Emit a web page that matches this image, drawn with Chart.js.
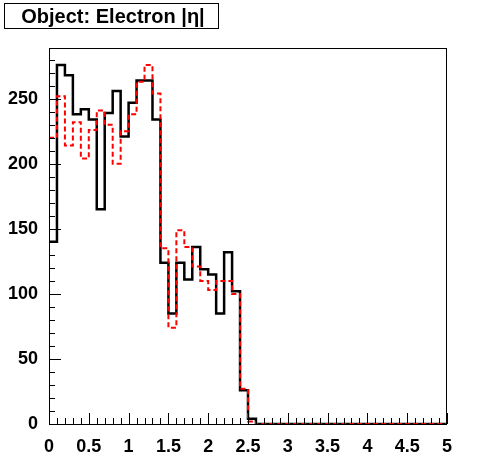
<!DOCTYPE html>
<html>
<head>
<meta charset="utf-8">
<script src="https://cdn.jsdelivr.net/npm/chart.js@4/dist/chart.umd.min.js"></script>
<style>
  html, body { margin: 0; padding: 0; background: #fff; }
  #wrap { width: 496px; height: 472px; }
</style>
</head>
<body>
<div id="wrap"><canvas id="chart" width="496" height="472"></canvas></div>
<script>
const titleText = "Object: Electron |\u03b7|";

// histogram: 50 bins of width 0.1 from 0 to 5
const binWidth = 0.1;
const blackCounts = [
  140, 276, 268, 238, 242, 234, 165, 239, 256, 221,
  247, 264, 264, 234, 124, 85, 124, 111, 136, 119,
  115, 85, 132, 102, 26, 4, 0, 0, 0, 0,
  0, 0, 0, 0, 0, 0, 0, 0, 0, 0,
  0, 0, 0, 0, 0, 0, 0, 0, 0, 0
];
const redCounts = [
  220, 252, 214, 232, 204, 226, 241, 230, 200, 225,
  238, 263, 276, 254, 135, 74, 149, 136, 121, 110,
  103, 110, 110, 100, 27, 2, 0, 0, 0, 0,
  0, 0, 0, 0, 0, 0, 0, 0, 0, 0,
  0, 0, 0, 0, 0, 0, 0, 0, 0, 0
];
const xTicks = [0, 0.5, 1, 1.5, 2, 2.5, 3, 3.5, 4, 4.5, 5];
const yTicks = [0, 50, 100, 150, 200, 250];
const xMax = 5;
const yMax = 289;

// turn bin contents into step points: value of bin i starts at its right edge
function toSteps(counts) {
  const pts = [{ x: 0, y: counts[0] }];
  counts.forEach((v, i) => pts.push({ x: +((i + 1) * binWidth).toFixed(2), y: v }));
  return pts;
}

const tickFont = { family: "'Liberation Sans', Arial, sans-serif", size: 18, weight: "bold" };

// ROOT style frame, inward ticks and the title box
const rootFrame = {
  id: "rootFrame",
  afterDraw(chart) {
    const { ctx, chartArea: a, scales } = chart;
    const xs = scales.x, ys = scales.y;
    ctx.save();
    ctx.strokeStyle = "#000";
    ctx.lineWidth = 1;
    ctx.strokeRect(a.left + 0.5, a.top + 0.5, a.right - a.left - 1, a.bottom - a.top);

    ctx.beginPath();
    for (let i = 0; i <= 50; i++) {
      const px = Math.round(xs.getPixelForValue(i * binWidth)) + 0.5;
      const len = i % 5 === 0 ? 11 : 6;
      ctx.moveTo(px, a.bottom);
      ctx.lineTo(px, a.bottom - len);
    }
    for (let v = 0; v <= yMax; v += 10) {
      const py = Math.round(ys.getPixelForValue(v)) + 0.5;
      const len = v % 50 === 0 ? 12 : 6;
      ctx.moveTo(a.left, py);
      ctx.lineTo(a.left + len, py);
    }
    ctx.stroke();

    // title box
    ctx.fillStyle = "#fff";
    ctx.fillRect(4, 3, 214, 25);
    ctx.strokeRect(4.5, 3.5, 214, 25);
    ctx.fillStyle = "#000";
    ctx.font = "bold 20px 'Liberation Sans', Arial, sans-serif";
    ctx.textAlign = "center";
    ctx.textBaseline = "alphabetic";
    ctx.fillText(titleText, 113, 23);
    ctx.restore();
  }
};

new Chart(document.getElementById("chart"), {
  type: "line",
  data: {
    datasets: [
      {
        label: "red",
        data: toSteps(redCounts),
        stepped: "after",
        borderColor: "#ff0000",
        borderWidth: 2,
        borderDash: [5, 3],
        pointRadius: 0,
        fill: false,
        order: 0
      },
      {
        label: "black",
        data: toSteps(blackCounts),
        stepped: "after",
        borderColor: "#000000",
        borderWidth: 2.5,
        pointRadius: 0,
        fill: false,
        order: 1
      }
    ]
  },
  options: {
    responsive: false,
    animation: false,
    events: [],
    layout: { padding: { left: 0, right: 49, top: 48, bottom: 0 } },
    plugins: {
      legend: { display: false },
      tooltip: { enabled: false },
      title: { display: false }
    },
    scales: {
      x: {
        type: "linear",
        min: 0,
        max: xMax,
        grid: { display: false },
        border: { display: false },
        afterBuildTicks: (s) => { s.ticks = xTicks.map((v) => ({ value: v })); },
        afterFit: (s) => { s.height = 48; },
        ticks: {
          font: tickFont,
          color: "#000",
          padding: 4,
          maxRotation: 0,
          autoSkip: false,
          callback: (v) => String(v)
        }
      },
      y: {
        type: "linear",
        min: 0,
        max: yMax,
        grid: { display: false },
        border: { display: false },
        afterBuildTicks: (s) => { s.ticks = yTicks.map((v) => ({ value: v })); },
        afterFit: (s) => { s.width = 49; },
        ticks: {
          font: tickFont,
          color: "#000",
          padding: 3,
          autoSkip: false
        }
      }
    }
  },
  plugins: [rootFrame]
});
</script>
</body>
</html>
